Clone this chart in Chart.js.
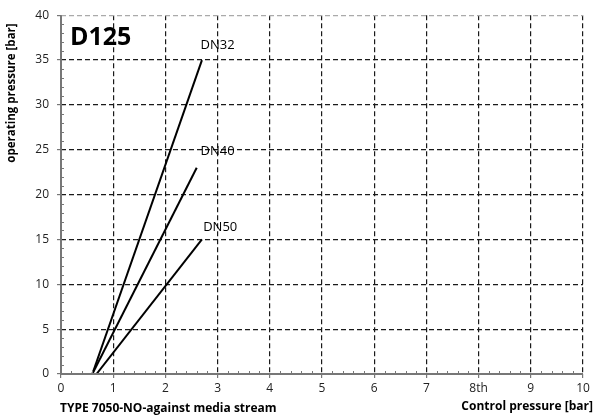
<!DOCTYPE html>
<html>
<head>
<meta charset="utf-8">
<script src="https://cdn.jsdelivr.net/npm/chart.js@4/dist/chart.umd.min.js"></script>
<style>
  html, body { margin: 0; padding: 0; background: #fff; }
  #wrap { width: 603px; height: 418px; }
</style>
</head>
<body>
<div id="wrap"><canvas id="myChart"></canvas></div>
<script>
// series: control pressure (x) vs operating pressure (y)
let dn32_x = [0.6, 2.7]
let dn32_y = [0, 35]
let dn40_x = [0.6, 2.6]
let dn40_y = [0, 23]
let dn50_x = [0.68, 2.7]
let dn50_y = [0, 15]

// line labels and where they sit (data units)
let line_names = ['DN32', 'DN40', 'DN50']
let label_x = [3.0, 3.0, 3.05]
let label_y = [36.7, 24.8, 16.3]

// x tick text, 0..10
let x_tick_labels = ['0', '1', '2', '3', '4', '5', '6', '7', '8th', '9', '10']

const FONT = "'Open Sans', 'Noto Sans', sans-serif"

const toPoints = (xs, ys) => xs.map((x, i) => {
  return { x: x, y: ys[i] }
})

// text labels, axis lines and minor ticks
const extras = {
  id: 'extras',
  afterDraw(chart) {
    const ctx = chart.ctx
    const xs = chart.scales.x
    const ys = chart.scales.y
    const area = chart.chartArea
    ctx.save()

    // solid grey axis lines
    ctx.strokeStyle = '#777'
    ctx.lineWidth = 2
    ctx.beginPath()
    ctx.moveTo(area.left, area.top)
    ctx.lineTo(area.left, area.bottom)
    ctx.lineTo(area.right, area.bottom)
    ctx.stroke()

    // minor ticks pointing inward
    ctx.lineWidth = 1
    for (let v = 0; v <= 40; v++) {
      if (v % 5 === 0) continue
      let py = Math.round(ys.getPixelForValue(v)) + 0.5
      ctx.beginPath()
      ctx.moveTo(area.left, py)
      ctx.lineTo(area.left + 3, py)
      ctx.stroke()
    }
    for (let k = 0; k <= 50; k++) {
      if (k % 5 === 0) continue
      let px = Math.round(xs.getPixelForValue(k / 5)) + 0.5
      ctx.beginPath()
      ctx.moveTo(px, area.bottom)
      ctx.lineTo(px, area.bottom - 3)
      ctx.stroke()
    }

    ctx.fillStyle = '#000'
    ctx.font = '13px ' + FONT
    ctx.textAlign = 'center'
    ctx.textBaseline = 'middle'
    for (let i = 0; i < line_names.length; i++) {
      ctx.fillText(line_names[i], xs.getPixelForValue(label_x[i]), ys.getPixelForValue(label_y[i]))
    }

    ctx.font = 'bold 25px ' + FONT
    ctx.textAlign = 'left'
    ctx.fillText('D125', area.left + 9, area.top + 23)

    ctx.font = 'bold 12px ' + FONT
    ctx.fillText('TYPE 7050-NO-against media stream', area.left - 1, 409)
    ctx.textAlign = 'right'
    ctx.fillText('Control pressure [bar]', 593, 407)

    ctx.translate(12, 93)
    ctx.rotate(-Math.PI / 2)
    ctx.textAlign = 'center'
    ctx.font = 'bold 11.5px ' + FONT
    ctx.fillText('operating pressure [bar]', 0, 0)
    ctx.restore()
  }
}

const lineSet = (label, data) => {
  return {
    label: label,
    data: data,
    borderColor: '#000',
    backgroundColor: '#000',
    borderWidth: 2,
    pointRadius: 0,
    showLine: true,
    fill: false
  }
}

var myChart = document.getElementById('myChart').getContext('2d')

var popChart = new Chart(myChart, {
  type: 'scatter',
  data: {
    datasets: [
      lineSet('DN32', toPoints(dn32_x, dn32_y)),
      lineSet('DN40', toPoints(dn40_x, dn40_y)),
      lineSet('DN50', toPoints(dn50_x, dn50_y))
    ]
  },
  options: {
    responsive: true,
    maintainAspectRatio: false,
    animation: false,
    layout: { padding: { left: 0, top: 15, right: 20, bottom: 0 } },
    scales: {
      x: {
        type: 'linear',
        position: 'bottom',
        min: 0,
        max: 10,
        afterFit: s => { s.height = 44 },
        ticks: {
          stepSize: 1,
          color: '#222',
          font: { family: FONT, size: 12 },
          padding: 3,
          callback: (v) => x_tick_labels[Math.round(v)]
        },
        border: { display: false, dash: [5, 3] },
        grid: {
          color: (c) => c.tick && c.tick.value === 0 ? 'rgba(0,0,0,0)' : '#1a1a1a',
          tickColor: '#777',
          tickLength: 4,
          lineWidth: 1.2
        }
      },
      y: {
        min: 0,
        max: 40,
        afterFit: s => { s.width = 61 },
        ticks: {
          stepSize: 5,
          color: '#222',
          font: { family: FONT, size: 12 },
          padding: 8
        },
        border: { display: false, dash: [5, 3] },
        grid: {
          color: (c) => {
            if (!c.tick) return '#1a1a1a'
            if (c.tick.value === 0) return 'rgba(0,0,0,0)'
            if (c.tick.value === 40) return '#aaa'
            return '#1a1a1a'
          },
          tickColor: '#777',
          tickLength: 4,
          lineWidth: 1.2
        }
      }
    },
    plugins: {
      legend: { display: false },
      tooltip: { enabled: false }
    }
  },
  plugins: [extras]
})
</script>
</body>
</html>
